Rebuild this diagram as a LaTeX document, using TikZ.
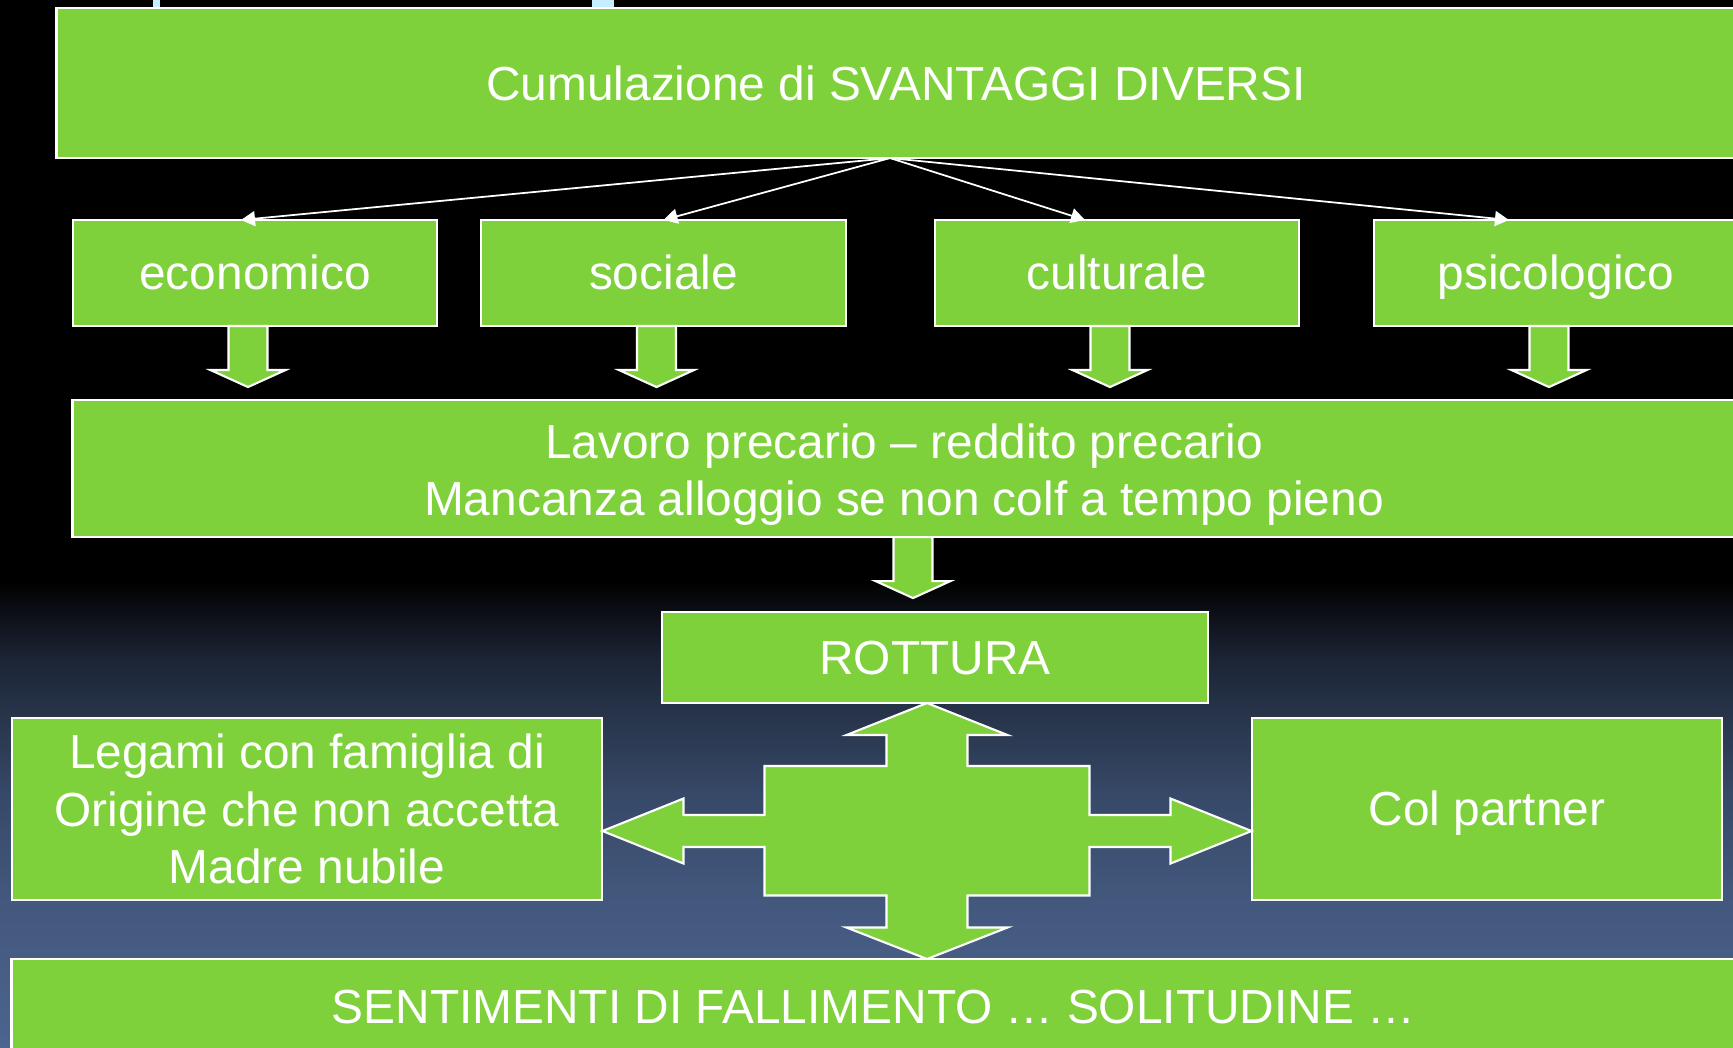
\documentclass[tikz,border=0pt]{standalone}
\usepackage{fontspec}
\setmainfont{Liberation Sans}
\usetikzlibrary{arrows.meta}

\definecolor{boxgreen}{RGB}{127,209,59}
\definecolor{slate}{RGB}{76,100,142}
\definecolor{slatelow}{RGB}{66,87,124}
\definecolor{slatemid}{RGB}{55,73,104}
\definecolor{slatedark}{RGB}{28,37,53}
\definecolor{paleblue}{RGB}{198,236,255}

% slide background, bottom (25bp) to top (75bp)
\pgfdeclareverticalshading{slidebg}{100bp}{color(0bp)=(slate); color(25bp)=(slate);
  color(41.5bp)=(slatelow); color(52bp)=(slatemid); color(66.5bp)=(slatedark);
  color(75bp)=(black); color(100bp)=(black)}

\tikzset{
  box/.style={draw=white, fill=boxgreen, line width=0.6pt, text=white,
    inner sep=0pt, outer sep=0pt, align=center,
    font=\fontsize{13.6pt}{16.4pt}\selectfont},
  oneline/.style={text height=12.2pt, text depth=2.7pt},
  rowbox/.style={box, oneline, minimum width=3.64cm, minimum height=1.06cm},
  fan/.style={draw=white, line width=0.5pt, -{Triangle[length=0.14cm,width=0.15cm]}},
  blockarr/.style={draw=white, fill=boxgreen, line width=0.6pt, line join=miter}
}

% down block arrow hanging from a point
\newcommand{\blockdown}[1]{%
  \draw[blockarr] (#1) ++(-19.5,0) -- ++(0,44) -- ++(-18,0) -- ++(37.5,17)
    -- ++(37.5,-17) -- ++(-18,0) -- ++(0,-44) -- cycle;}

\begin{document}
\begin{tikzpicture}[x=0.01cm, y=-0.01cm]
\useasboundingbox (0,0) rectangle (1733,1047);
\clip (0,0) rectangle (1733,1047);
% background
\fill[black] (0,0) rectangle (1733,581);
\shade[shading=slidebg] (0,580) rectangle (1733,1047);
\fill[paleblue] (153,0) rectangle (160,8);
\fill[paleblue] (592,0) rectangle (614,8);

\node[box, minimum width=16.78cm, minimum height=1.50cm] (top) at (896,83) {Cumulazione di SVANTAGGI DIVERSI};

\foreach \name/\x/\txt/\dx in {eco/255/economico/-0.14, soc/663.5/sociale/0,
    cul/1117/culturale/-0.32, psi/1556/psicologico/-0.47}{
  \node[rowbox] (\name) at (\x,273) {\txt};
  \draw[fan] ([xshift=-0.06cm]top.south) -- ([xshift=\dx cm]\name.north);
  \blockdown{[xshift=-0.07cm]\name.south}
}

\node[box, minimum width=16.62cm, minimum height=1.37cm] (lav) at (904,468.5)
  {\rule{0pt}{13.3pt}Lavoro precario – reddito precario\\Mancanza alloggio se non colf a tempo pieno};
\blockdown{[xshift=0.09cm]lav.south}

\node[box, oneline, minimum width=5.46cm, minimum height=0.91cm] (rot) at (935,657.5) {ROTTURA};
\node[box, minimum width=5.90cm, minimum height=1.82cm] (leg) at (307,809)
  {Legami con famiglia di\\Origine che non accetta\\Madre nubile};
\node[box, oneline, minimum width=4.70cm, minimum height=1.82cm] (col) at (1487,809) {Col partner};
\node[box, oneline, minimum width=17.23cm, minimum height=0.96cm] (sen) at (873.5,1007)
  {SENTIMENTI DI FALLIMENTO … SOLITUDINE …};

% four-way arrow
\begin{scope}[shift={(927,831)}]
\draw[blockarr] (0,-128) -- (80.5,-96) -- (40.5,-96) -- (40.5,-65) -- (162.5,-65)
  -- (162.5,-16) -- (243.5,-16) -- (243.5,-32.5) -- (324.5,0) -- (243.5,32.5)
  -- (243.5,16) -- (162.5,16) -- (162.5,64.5) -- (40.5,64.5) -- (40.5,96.5)
  -- (80.5,96.5) -- (0,128) -- (-80.5,96.5) -- (-40.5,96.5) -- (-40.5,64.5)
  -- (-162.5,64.5) -- (-162.5,16) -- (-243.5,16) -- (-243.5,32.5) -- (-324.5,0)
  -- (-243.5,-32.5) -- (-243.5,-16) -- (-162.5,-16) -- (-162.5,-65) -- (-40.5,-65)
  -- (-40.5,-96) -- (-80.5,-96) -- cycle;
\end{scope}
\end{tikzpicture}
\end{document}
